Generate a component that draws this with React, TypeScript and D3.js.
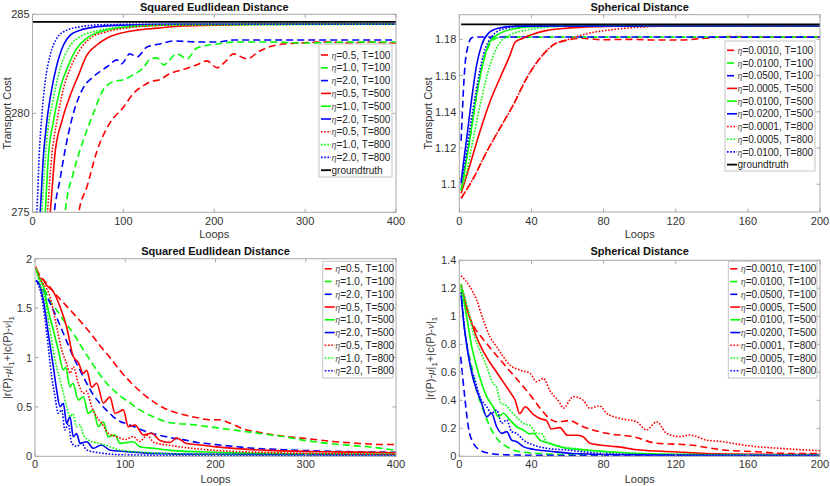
import React from "react";
import * as d3 from "d3";

type P = [number, number];

// ---------- Panel 1: Squared Euclidean, transport cost ----------
const seCostRedDash: P[] = [[49,274],[51,275],[60,276.3],[71,278.1],[85,279.5],[100,280.3],[111,281],[122,281.4],[130,281.6],[140,281.7],[151,282.0],[165,282.2],[181,282.45],[192,282.65],[203,282.3],[212,282.6],[221,283.0],[236,282.75],[250,283.15],[269,283.45],[294,283.55],[324,283.6],[349,283.55],[371,283.6],[393,283.55],[400,283.55]];
const seCostGreenDash: P[] = [[34,274],[36,275],[45,277.0],[56,278.65],[67,280.0],[78,281.2],[89,281.6],[100,281.7],[111,281.95],[122,282.3],[130,282.75],[137,282.8],[144,282.45],[159,283.0],[170,282.75],[181,283.3],[203,283.5],[225,283.6],[260,283.6],[300,283.55],[350,283.6],[400,283.6]];
const seCostBlueDash: P[] = [[22,274],[24,275],[30,276.6],[38,278.65],[45,280.0],[56,281.3],[67,281.85],[82,282.35],[93,282.7],[98,282.5],[107,283.0],[115,282.85],[126,283.35],[140,283.5],[155,283.65],[184,283.6],[203,283.6],[221,283.7],[300,283.7],[400,283.7]];
const seCostRedSolid: P[] = [[17.5,274],[19.5,275],[25,278.06],[32.3,279.6],[41.5,280.9],[50.6,281.93],[59.8,282.94],[70.8,283.45],[81.8,283.79],[90,283.95],[96.5,284.04],[115,284.2],[137,284.3],[160,284.4],[200,284.45],[250,284.5],[400,284.5]];
const seCostGreenSolid: P[] = [[12.5,274],[14,275],[17.6,277.9],[23,279.6],[30.5,281.26],[39.6,282.44],[48.8,283.28],[59.8,283.79],[74.5,284.12],[96.5,284.32],[126,284.42],[160,284.48],[400,284.5]];
const seCostBlueSolid: P[] = [[7,274],[8.5,275],[12.1,277.9],[15.8,279.6],[21.3,281.26],[26.8,282.44],[34.1,283.45],[41.5,283.95],[52.5,284.2],[70.8,284.37],[100,284.45],[150,284.5],[400,284.5]];
const seCostRedDot: P[] = [[15,274],[16.5,275],[21.3,277.9],[26.8,279.6],[34.1,281.26],[41.5,282.27],[50.6,283.1],[63.5,283.79],[81.8,284.12],[105,284.32],[130,284.42],[170,284.48],[400,284.5]];
const seCostGreenDot: P[] = [[9,274],[10.3,275],[15.8,278.7],[23,280.76],[30.5,282.27],[39.6,283.28],[52.5,283.87],[67,284.12],[90,284.32],[120,284.42],[160,284.48],[400,284.5]];
const seCostBlueDot: P[] = [[3.5,274],[4.8,275],[7.4,277.9],[10.3,279.9],[14,281.6],[19.5,282.94],[26.8,283.79],[37.8,284.2],[52.5,284.37],[75,284.47],[120,284.5],[400,284.5]];
const seCostTruth: P[] = [[0,284.62],[400,284.62]];

// ---------- Panel 2: Spherical, transport cost ----------
const spCostRedDash: P[] = [[1,1.0923],[7.8,1.1033],[15.2,1.118],[22.5,1.1309],[29.9,1.1438],[37.3,1.1585],[44.7,1.1695],[52.1,1.1769],[60,1.1796],[68,1.1806],[79,1.1798],[95,1.18],[110,1.1796],[123,1.1796],[135,1.1805],[150,1.1815],[170,1.1812],[200,1.1812]];
const spCostGreenDash: P[] = [[1,1.0965],[2.2,1.1033],[5.9,1.1254],[9.6,1.1493],[13.3,1.1676],[17,1.1775],[20,1.1805],[24,1.1812],[200,1.1812]];
const spCostBlueDash: P[] = [[1,1.124],[3.1,1.165],[5,1.1769],[6.9,1.1809],[9,1.1813],[200,1.1812]];
const spCostRedSolid: P[] = [[1,1.095],[5.9,1.1107],[11.4,1.129],[17,1.1456],[22.5,1.1585],[28.1,1.1713],[31,1.1785],[35,1.1805],[40,1.1825],[48,1.1848],[60,1.1862],[75,1.187],[100,1.1874],[200,1.1874]];
const spCostGreenSolid: P[] = [[1,1.0965],[2.2,1.1033],[5.9,1.1254],[9.6,1.1493],[13.3,1.1676],[17,1.1787],[22.5,1.1833],[29.9,1.1857],[41,1.187],[60,1.1874],[200,1.1874]];
const spCostBlueSolid: P[] = [[1,1.1005],[1.3,1.1033],[4.1,1.1254],[6.9,1.1474],[9.6,1.1658],[12.4,1.1769],[16.1,1.1833],[21.6,1.1861],[31.8,1.1873],[200,1.1874]];
const spCostRedDot: P[] = [[1,1.0923],[7.8,1.1033],[15.2,1.118],[22.5,1.1309],[29.9,1.1438],[37.3,1.1585],[44.7,1.1695],[52.1,1.1769],[60,1.1798],[71.5,1.1833],[86,1.1855],[105,1.187],[123,1.1875],[200,1.1875]];
const spCostGreenDot: P[] = [[1,1.098],[3.2,1.1033],[7.8,1.1254],[12.4,1.1474],[17,1.1658],[21.6,1.1769],[28.1,1.1824],[37.3,1.1851],[50.2,1.1868],[70,1.1874],[200,1.1874]];
const spCostBlueDot: P[] = [[1,1.1025],[2.2,1.107],[5.9,1.1309],[9.6,1.153],[13.3,1.1713],[17.9,1.1814],[24.4,1.1857],[35,1.1872],[200,1.1874]];
const spCostTruth: P[] = [[1,1.1883],[200,1.1883]];

// ---------- Panel 3: Squared Euclidean, marginal error ----------
const seErrRedDash: P[] = [[1,1.9],[8,1.8],[15,1.73],[22,1.65],[35,1.52],[50,1.37],[62,1.24],[72,1.12],[83,1.0],[94,0.87],[107,0.74],[120,0.63],[135,0.53],[150,0.46],[165,0.42],[180,0.39],[193,0.37],[205,0.37],[215,0.34],[230,0.28],[250,0.24],[270,0.21],[300,0.18],[330,0.15],[360,0.13],[380,0.12],[400,0.12]];
const seErrGreenDash: P[] = [[1,1.9],[8,1.75],[16.6,1.57],[24,1.48],[33,1.36],[42.4,1.245],[52,1.1],[61,0.975],[70,0.85],[79.4,0.74],[92,0.63],[105,0.54],[118,0.46],[131,0.4],[150,0.34],[175,0.32],[200,0.29],[225,0.26],[250,0.23],[275,0.2],[300,0.16],[325,0.13],[350,0.11],[375,0.09],[400,0.06]];
const seErrBlueDash: P[] = [[1,1.78],[8,1.7],[14,1.6],[20.3,1.48],[31.4,1.245],[42.4,1.008],[50,0.87],[57.3,0.739],[64,0.63],[72,0.536],[80,0.46],[86.8,0.4],[95,0.35],[101.6,0.33],[110,0.3],[120,0.26],[135,0.22],[150,0.19],[164,0.169],[180,0.14],[201,0.118],[220,0.1],[238,0.084],[275,0.067],[331,0.05],[400,0.04]];
const seErrRedSolid: P[] = [[1,1.92],[5.5,1.8],[9,1.79],[13,1.73],[20.3,1.666],[27.7,1.514],[35,1.312],[42.4,1.01],[48,0.95],[53.5,0.84],[57.3,0.87],[62.8,0.7],[68.4,0.74],[75.7,0.54],[83.1,0.6],[88.6,0.435],[93,0.45],[97.8,0.47],[103.4,0.3],[110.8,0.317],[120,0.216],[129.3,0.233],[138.5,0.16],[149.6,0.14],[157,0.185],[168,0.13],[183,0.115],[201,0.095],[220,0.08],[257,0.06],[294,0.05],[331,0.045],[400,0.035]];
const seErrGreenSolid: P[] = [[1,1.9],[5,1.8],[9.2,1.72],[14.7,1.48],[20.3,1.278],[25.8,1.076],[31.4,0.873],[34,0.9],[38.8,0.704],[42,0.74],[48,0.57],[53.5,0.603],[59,0.435],[64.6,0.469],[70.1,0.3],[75.7,0.35],[81.2,0.198],[88.6,0.216],[94.2,0.131],[108.9,0.148],[116.3,0.097],[131,0.081],[150,0.06],[200,0.04],[250,0.03],[300,0.025],[400,0.02]];
const seErrBlueSolid: P[] = [[1,1.78],[3.7,1.76],[9.2,1.58],[14.7,1.245],[20.3,0.907],[24,0.671],[27.7,0.502],[31.4,0.536],[35,0.334],[38.8,0.401],[42.4,0.198],[46.1,0.23],[49.9,0.131],[57.3,0.148],[64.6,0.081],[73.6,0.115],[82.7,0.064],[101,0.047],[130,0.03],[200,0.02],[400,0.015]];
const seErrRedDot: P[] = [[1,1.9],[5.5,1.8],[16.6,1.615],[24,1.312],[29.6,1.076],[35,0.94],[38.8,0.84],[42.4,0.907],[48,0.739],[53.5,0.638],[57,0.66],[62.8,0.502],[68.4,0.4],[73.9,0.334],[81.2,0.233],[90.5,0.198],[100,0.17],[109,0.2],[116,0.15],[124,0.21],[132,0.14],[150,0.11],[170,0.085],[200,0.06],[250,0.04],[300,0.03],[400,0.02]];
const seErrGreenDot: P[] = [[1,1.9],[3.7,1.8],[11.1,1.58],[16.6,1.278],[22.2,0.975],[27.7,0.772],[31.4,0.64],[35,0.502],[38.8,0.4],[42,0.43],[46.1,0.3],[50,0.32],[53.5,0.216],[62.8,0.148],[72,0.131],[83,0.097],[94,0.064],[120,0.04],[150,0.025],[200,0.015],[400,0.01]];
const seErrBlueDot: P[] = [[1,1.78],[7.4,1.615],[13,1.245],[18.5,0.806],[22.2,0.603],[25.8,0.435],[29.6,0.47],[33.2,0.266],[36.9,0.33],[40.7,0.131],[46.1,0.1],[51.7,0.13],[57.3,0.064],[75.8,0.03],[100,0.015],[200,0.008],[400,0.005]];

// ---------- Panel 4: Spherical, marginal error ----------
const spErrRedDash: P[] = [[1,1.23],[4,1.06],[8,0.93],[13,0.84],[18,0.76],[24,0.67],[30,0.58],[36,0.49],[41,0.41],[45,0.34],[50,0.27],[55,0.245],[61,0.255],[68,0.215],[81.7,0.164],[96.4,0.14],[109.4,0.093],[127.8,0.081],[146.3,0.045],[164.8,0.033],[183,0.02],[200,0.02]];
const spErrGreenDash: P[] = [[1,1.2],[2.2,0.997],[4.1,0.807],[6.9,0.64],[9.6,0.474],[13.3,0.331],[17,0.211],[21.6,0.116],[26.3,0.069],[33.6,0.033],[44.7,0.02],[60,0.012],[200,0.01]];
const spErrBlueDash: P[] = [[0.8,0.711],[3.2,0.402],[5,0.211],[7.8,0.093],[11.4,0.045],[17,0.021],[26.3,0.01],[60,0.006],[200,0.005]];
const spErrRedSolid: P[] = [[1,1.22],[5,1.02],[6.9,0.95],[9.6,0.85],[13.3,0.75],[17,0.67],[20.7,0.6],[24.4,0.53],[28.1,0.46],[31,0.4],[33.5,0.305],[36.5,0.354],[41,0.3],[44.7,0.27],[48.4,0.255],[51,0.195],[55.8,0.205],[60,0.15],[65,0.15],[68.7,0.14],[72.4,0.093],[77.9,0.081],[87.2,0.069],[100,0.045],[118.5,0.033],[137,0.02],[200,0.012]];
const spErrGreenSolid: P[] = [[1,1.22],[4.1,0.997],[6.9,0.783],[9.6,0.64],[12.4,0.521],[15.2,0.426],[18.8,0.354],[21.6,0.283],[24.4,0.307],[28.1,0.259],[31.8,0.211],[35.5,0.188],[39,0.16],[41,0.165],[44.7,0.116],[50.2,0.093],[59.5,0.057],[70.5,0.045],[100,0.02],[150,0.01],[200,0.008]];
const spErrBlueSolid: P[] = [[1,1.15],[2.5,0.95],[4.1,0.8],[6.9,0.593],[9.6,0.474],[12.4,0.379],[15.2,0.283],[17.9,0.307],[20.7,0.211],[23.5,0.164],[26.3,0.176],[29,0.116],[31.8,0.104],[35.5,0.069],[41,0.05],[50.2,0.036],[63,0.02],[100,0.01],[200,0.005]];
const spErrRedDot: P[] = [[1,1.29],[5.9,1.211],[9.6,1.116],[13.3,0.974],[17,0.854],[20.7,0.783],[24.4,0.711],[28.1,0.652],[33.6,0.616],[39.2,0.593],[42.9,0.533],[46.5,0.557],[50.2,0.47],[55.8,0.38],[57.6,0.343],[63.2,0.426],[68.7,0.4],[72.4,0.343],[77.9,0.36],[81.7,0.307],[89,0.271],[98.3,0.247],[103.8,0.188],[109.4,0.247],[114.9,0.164],[122.3,0.14],[127.8,0.152],[137,0.116],[146.3,0.104],[155,0.085],[164.8,0.069],[180,0.055],[192.5,0.045],[200,0.04]];
const spErrGreenDot: P[] = [[1,1.23],[5,1.045],[7.8,0.88],[11.4,0.76],[15.2,0.64],[18.8,0.52],[20.5,0.5],[23,0.38],[26.3,0.36],[28.1,0.33],[31.8,0.28],[35.5,0.235],[39.2,0.22],[42.9,0.165],[46,0.16],[48.4,0.1],[55.8,0.07],[63.2,0.057],[72.4,0.04],[90,0.025],[120,0.015],[200,0.01]];
const spErrBlueDot: P[] = [[1,1.17],[3.2,0.878],[5.9,0.664],[8.7,0.545],[11.4,0.426],[15.2,0.354],[17.9,0.307],[20.7,0.33],[23.5,0.236],[26.3,0.26],[29,0.176],[31.8,0.164],[35.5,0.116],[41,0.081],[48.4,0.057],[59.5,0.045],[80,0.02],[120,0.01],[200,0.008]];

// ---------- ticks & labels ----------
const xTicksSE = [0, 100, 200, 300, 400];
const xTicksSP = [0, 40, 80, 120, 160, 200];
const yTicksSECost = [275, 280, 285];
const yTicksSPCost = [1.1, 1.12, 1.14, 1.16, 1.18];
const yTicksSEErr = [0, 0.5, 1, 1.5, 2];
const yTicksSPErr = [0, 0.2, 0.4, 0.6, 0.8, 1, 1.2, 1.4];

const etaSE = ["0.5", "1.0", "2.0", "0.5", "1.0", "2.0", "0.5", "1.0", "2.0"];
const etaSP = ["0.0010", "0.0100", "0.0500", "0.0005", "0.0100", "0.0200", "0.0001", "0.0005", "0.0100"];
const horizons = [100, 100, 100, 500, 500, 500, 800, 800, 800];

const titleSE = "Squared Eudlidean Distance";
const titleSP = "Spherical Distance";

const COLORS = ["#ff0000", "#00ff00", "#0000ff"];
const DASH = ["7,4", null, "1.6,1.6"];
const FONT = "'Liberation Sans', Arial, Helvetica, sans-serif";

type Panel = {
  id: string;
  title: string;
  kind: "cost" | "err";
  xDomain: [number, number];
  yDomain: [number, number];
  left: number; right: number; top: number; bottom: number;
  xTicks: number[]; yTicks: number[];
  series: P[][];
  truth?: P[];
  etas: string[];
  lg: { x0: number; x1: number; y0: number; y1: number; first: number; step: number };
  titleY: number; xTickY: number; xLabY: number; yLabX: number;
};

const panels: Panel[] = [
  {
    id: "p1", title: titleSE, kind: "cost", xDomain: [0, 400], yDomain: [275, 285],
    left: 32.5, right: 396, top: 14.3, bottom: 212.3, xTicks: xTicksSE, yTicks: yTicksSECost,
    series: [seCostRedDash, seCostGreenDash, seCostBlueDash, seCostRedSolid, seCostGreenSolid, seCostBlueSolid, seCostRedDot, seCostGreenDot, seCostBlueDot],
    truth: seCostTruth, etas: etaSE,
    lg: { x0: 319, x1: 392, y0: 44, y1: 177, first: 55, step: 12.8 },
    titleY: 11, xTickY: 224.8, xLabY: 237.5, yLabX: 11,
  },
  {
    id: "p2", title: titleSP, kind: "cost", xDomain: [0, 200], yDomain: [1.0847, 1.1936],
    left: 459.3, right: 820, top: 14.7, bottom: 212, xTicks: xTicksSP, yTicks: yTicksSPCost,
    series: [spCostRedDash, spCostGreenDash, spCostBlueDash, spCostRedSolid, spCostGreenSolid, spCostBlueSolid, spCostRedDot, spCostGreenDot, spCostBlueDot],
    truth: spCostTruth, etas: etaSP,
    lg: { x0: 725, x1: 815, y0: 41, y1: 171, first: 50.3, step: 12.7 },
    titleY: 11, xTickY: 224.8, xLabY: 237.5, yLabX: 432,
  },
  {
    id: "p3", title: titleSE, kind: "err", xDomain: [0, 400], yDomain: [0, 2],
    left: 35, right: 396, top: 258.7, bottom: 456.3, xTicks: xTicksSE, yTicks: yTicksSEErr,
    series: [seErrRedDash, seErrGreenDash, seErrBlueDash, seErrRedSolid, seErrGreenSolid, seErrBlueSolid, seErrRedDot, seErrGreenDot, seErrBlueDot],
    etas: etaSE,
    lg: { x0: 322.7, x1: 393, y0: 261.3, y1: 378, first: 268.8, step: 12.75 },
    titleY: 255, xTickY: 468, xLabY: 483, yLabX: 10.5,
  },
  {
    id: "p4", title: titleSP, kind: "err", xDomain: [0, 200], yDomain: [0, 1.4],
    left: 459.3, right: 820, top: 260.3, bottom: 456.3, xTicks: xTicksSP, yTicks: yTicksSPErr,
    series: [spErrRedDash, spErrGreenDash, spErrBlueDash, spErrRedSolid, spErrGreenSolid, spErrBlueSolid, spErrRedDot, spErrGreenDot, spErrBlueDot],
    etas: etaSP,
    lg: { x0: 728.3, x1: 817, y0: 261.3, y1: 378, first: 268.8, step: 12.75 },
    titleY: 255, xTickY: 468, xLabY: 483, yLabX: 434,
  },
];

function fmt(v: number) {
  return String(+v.toFixed(4));
}

function PanelView({ p }: { p: Panel }) {
  const xs = d3.scaleLinear().domain(p.xDomain).range([p.left, p.right]);
  const ys = d3.scaleLinear().domain(p.yDomain).range([p.bottom, p.top]);
  const line = d3
    .line<P>()
    .x((d) => xs(d[0]))
    .y((d) => ys(d[1]))
    .curve(d3.curveMonotoneX);
  const tl = 3.5;
  const boxColor = "#a8a8a8";
  const tickText = "#333";
  const cx = (p.left + p.right) / 2;
  const cy = (p.top + p.bottom) / 2;
  const entries = p.etas.map((e, i) => ({
    eta: e,
    T: horizons[i],
    color: COLORS[i % 3],
    dash: DASH[Math.floor(i / 3)],
  }));
  return (
    <g>
      <defs>
        <clipPath id={"clip-" + p.id}>
          <rect x={p.left} y={p.top} width={p.right - p.left} height={p.bottom - p.top} />
        </clipPath>
      </defs>
      <rect x={p.left} y={p.top} width={p.right - p.left} height={p.bottom - p.top} fill="#fff" />
      <g clipPath={`url(#clip-${p.id})`}>
        {p.series.map((s, i) => (
          <path
            key={i}
            d={line(s) || ""}
            fill="none"
            stroke={COLORS[i % 3]}
            strokeWidth={1.6}
            strokeDasharray={DASH[Math.floor(i / 3)] || undefined}
          />
        ))}
        {p.truth && <path d={line(p.truth) || ""} fill="none" stroke="#000" strokeWidth={1.8} />}
      </g>
      <rect x={p.left} y={p.top} width={p.right - p.left} height={p.bottom - p.top} fill="none" stroke={boxColor} strokeWidth={1} />
      {p.xTicks.map((t) => (
        <g key={"x" + t}>
          <line x1={xs(t)} x2={xs(t)} y1={p.bottom} y2={p.bottom - tl} stroke={boxColor} />
          <line x1={xs(t)} x2={xs(t)} y1={p.top} y2={p.top + tl} stroke={boxColor} />
          <text x={xs(t)} y={p.xTickY} textAnchor="middle" fontSize={11} fill={tickText} fontFamily={FONT}>
            {fmt(t)}
          </text>
        </g>
      ))}
      {p.yTicks.map((t) => (
        <g key={"y" + t}>
          <line x1={p.left} x2={p.left + tl} y1={ys(t)} y2={ys(t)} stroke={boxColor} />
          <line x1={p.right} x2={p.right - tl} y1={ys(t)} y2={ys(t)} stroke={boxColor} />
          <text x={p.left - 3} y={ys(t) + 4} textAnchor="end" fontSize={11} fill={tickText} fontFamily={FONT}>
            {fmt(t)}
          </text>
        </g>
      ))}
      <text x={cx} y={p.titleY} textAnchor="middle" fontSize={11} fontWeight="bold" fill="#111" fontFamily={FONT}>
        {p.title}
      </text>
      <text x={cx} y={p.xLabY} textAnchor="middle" fontSize={11} fill={tickText} fontFamily={FONT}>
        Loops
      </text>
      {p.kind === "cost" ? (
        <text transform={`translate(${p.yLabX},${cy}) rotate(-90)`} textAnchor="middle" fontSize={11} fill={tickText} fontFamily={FONT}>
          Transport Cost
        </text>
      ) : (
        <text transform={`translate(${p.yLabX},${cy}) rotate(-90)`} textAnchor="middle" fontSize={11} fill={tickText} fontFamily={FONT}>
          |r(P)-<tspan fontStyle="italic" fontFamily="'Liberation Serif', serif">μ</tspan>|
          <tspan dy={3} fontSize={8}>1</tspan>
          <tspan dy={-3}>+|c(P)-</tspan>
          <tspan fontStyle="italic" fontFamily="'Liberation Serif', serif">ν</tspan>|
          <tspan dy={3} fontSize={8}>1</tspan>
        </text>
      )}
      <rect x={p.lg.x0} y={p.lg.y0} width={p.lg.x1 - p.lg.x0} height={p.lg.y1 - p.lg.y0} fill="#fff" stroke="#c4c4c4" strokeWidth={1} />
      {entries.map((e, i) => {
        const y = p.lg.first + i * p.lg.step;
        return (
          <g key={"l" + i}>
            <line x1={p.lg.x0 + 2} x2={p.lg.x0 + 12} y1={y} y2={y} stroke={e.color} strokeWidth={1.6} strokeDasharray={e.dash || undefined} />
            <text x={p.lg.x0 + 12.5} y={y + 3.6} fontSize={10} fill="#222" fontFamily={FONT}>
              <tspan fontStyle="italic" fontFamily="'Liberation Serif', serif" fill="#555">η</tspan>
              {`=${e.eta}, T=${e.T}`}
            </text>
          </g>
        );
      })}
      {p.truth && (
        <g>
          <line
            x1={p.lg.x0 + 2}
            x2={p.lg.x0 + 12}
            y1={p.lg.first + 9 * p.lg.step}
            y2={p.lg.first + 9 * p.lg.step}
            stroke="#000"
            strokeWidth={1.8}
          />
          <text x={p.lg.x0 + 12.5} y={p.lg.first + 9 * p.lg.step + 3.6} fontSize={10} fill="#222" fontFamily={FONT}>
            groundtruth
          </text>
        </g>
      )}
    </g>
  );
}

export default function App() {
  return (
    <svg
      width={830}
      height={486}
      viewBox="0 0 830 486"
      style={{ position: "absolute", left: 0, top: 0, background: "#fff", display: "block" }}
    >
      <rect x={0} y={0} width={830} height={486} fill="#fff" />
      {panels.map((p) => (
        <PanelView key={p.id} p={p} />
      ))}
    </svg>
  );
}
